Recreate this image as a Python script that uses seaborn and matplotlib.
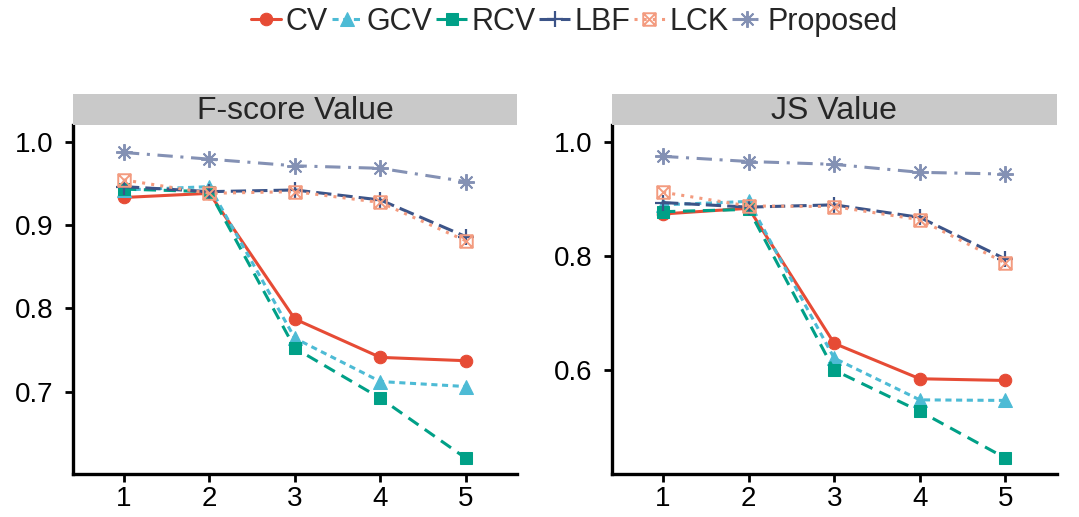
import matplotlib
matplotlib.use('Agg')
import matplotlib.pyplot as plt
from matplotlib.path import Path
import pandas as pd
import seaborn as sns

# data
steps = [1, 2, 3, 4, 5]
methods = ['CV', 'GCV', 'RCV', 'LBF', 'LCK', 'Proposed']

fscore_cv = [0.933, 0.938, 0.787, 0.741, 0.737]
fscore_gcv = [0.942, 0.946, 0.764, 0.712, 0.706]
fscore_rcv = [0.943, 0.940, 0.752, 0.692, 0.620]
fscore_lbf = [0.946, 0.940, 0.942, 0.930, 0.886]
fscore_lck = [0.954, 0.938, 0.940, 0.927, 0.881]
fscore_proposed = [0.987, 0.979, 0.971, 0.968, 0.952]

js_cv = [0.873, 0.883, 0.646, 0.584, 0.581]
js_gcv = [0.889, 0.895, 0.620, 0.547, 0.546]
js_rcv = [0.877, 0.881, 0.599, 0.527, 0.445]
js_lbf = [0.893, 0.885, 0.889, 0.867, 0.794]
js_lck = [0.911, 0.887, 0.886, 0.863, 0.787]
js_proposed = [0.974, 0.965, 0.960, 0.946, 0.943]

panels = ['F-score Value', 'JS Value']
fscore = [fscore_cv, fscore_gcv, fscore_rcv, fscore_lbf, fscore_lck, fscore_proposed]
js = [js_cv, js_gcv, js_rcv, js_lbf, js_lck, js_proposed]

rows = []
for panel, series in zip(panels, [fscore, js]):
    for m, vals in zip(methods, series):
        for s, v in zip(steps, vals):
            rows.append({'panel': panel, 'method': m, 'step': s, 'value': v})
df = pd.DataFrame(rows)

# square with a cross (ggplot shape 7)
box_x = Path([(-1, -1), (1, -1), (1, 1), (-1, 1), (-1, -1),
              (-1, -1), (1, 1), (-1, 1), (1, -1)],
             [Path.MOVETO, Path.LINETO, Path.LINETO, Path.LINETO, Path.CLOSEPOLY,
              Path.MOVETO, Path.LINETO, Path.MOVETO, Path.LINETO])

styles = {
    'CV': dict(color='#E64B35', marker='o', linestyle='-', ms=9),
    'GCV': dict(color='#4DBBD5', marker='^', linestyle=(0, (2, 1.5)), ms=10),
    'RCV': dict(color='#00A087', marker='s', linestyle=(0, (4, 2.5)), ms=8.5),
    'LBF': dict(color='#3C5488', marker='+', linestyle=(0, (5, 2)), ms=12, mew=1.6),
    'LCK': dict(color='#F39B7F', marker=box_x, linestyle=(0, (1, 2)), ms=9, mew=1.4,
                markerfacecolor='none'),
    'Proposed': dict(color='#8491B4', marker=(8, 2, 0), linestyle=(0, (5, 2.5, 1, 2.5)),
                     ms=12, mew=1.4),
}

sns.set_style('white')
plt.rcParams['font.family'] = ['Liberation Sans', 'DejaVu Sans']

fig = plt.figure(figsize=(10.79, 5.17), dpi=100)
ax_pos = [[0.0674, 0.0832, 0.4118, 0.675], [0.567, 0.0832, 0.4123, 0.675]]
ylims = [(0.601, 1.02), (0.417, 1.029)]
yticks = [[0.7, 0.8, 0.9, 1.0], [0.6, 0.8, 1.0]]

axes = []
for i, panel in enumerate(panels):
    ax = fig.add_axes(ax_pos[i])
    sub = df[df['panel'] == panel]
    for m in methods:
        st = dict(styles[m])
        color = st.pop('color')
        d = sub[sub['method'] == m]
        sns.lineplot(data=d, x='step', y='value', ax=ax, color=color, label=m,
                     lw=2.2, markeredgecolor=color, **st)
    ax.set_xlim(0.4, 5.6)
    ax.set_ylim(*ylims[i])
    ax.set_xticks(steps)
    ax.set_yticks(yticks[i])
    ax.set_yticklabels([f'{t:.1f}' for t in yticks[i]])
    ax.set_xlabel('')
    ax.set_ylabel('')
    for sp in ['top', 'right']:
        ax.spines[sp].set_visible(False)
    for sp in ['left', 'bottom']:
        ax.spines[sp].set_linewidth(2.4)
        ax.spines[sp].set_color('black')
    ax.tick_params(axis='both', direction='out', length=6, width=2,
                   labelsize=20, colors='black', left=True, bottom=True)
    ax.tick_params(axis='y', pad=8)
    ax.tick_params(axis='x', pad=3)
    if ax.get_legend() is not None:
        ax.get_legend().remove()

    # facet strip
    sx = fig.add_axes([ax_pos[i][0], 0.758, ax_pos[i][2], 0.06])
    sx.set_facecolor('#C9C9C9')
    sx.set_xticks([])
    sx.set_yticks([])
    for sp in sx.spines.values():
        sp.set_visible(False)
    sx.text(0.5, 0.45, panel, ha='center', va='center', fontsize=23, transform=sx.transAxes)
    axes.append(ax)

handles, labels = axes[0].get_legend_handles_labels()
fig.legend(handles, labels, loc='center', bbox_to_anchor=(0.532, 0.958), ncol=6,
           frameon=False, fontsize=22, handlelength=1.0, handletextpad=0.15,
           columnspacing=0.12, borderaxespad=0)

fig.savefig('out.png', dpi=100)
